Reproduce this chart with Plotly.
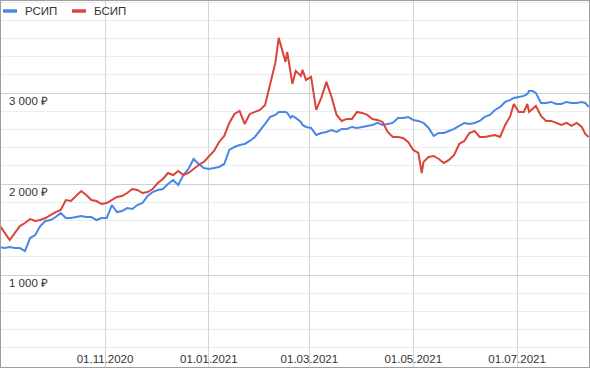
import plotly.graph_objects as go

dates = [
    "2020-08-31", "2020-09-03", "2020-09-06", "2020-09-09", "2020-09-12", "2020-09-15", "2020-09-18",
    "2020-09-21", "2020-09-24", "2020-09-27", "2020-09-30",
    "2020-10-03", "2020-10-06", "2020-10-09", "2020-10-12", "2020-10-15", "2020-10-18", "2020-10-21",
    "2020-10-24", "2020-10-27", "2020-10-30",
    "2020-11-02", "2020-11-05", "2020-11-08", "2020-11-11", "2020-11-14", "2020-11-17", "2020-11-20",
    "2020-11-23", "2020-11-26", "2020-11-29",
    "2020-12-02", "2020-12-05", "2020-12-08", "2020-12-11", "2020-12-14", "2020-12-17", "2020-12-20",
    "2020-12-23", "2020-12-26", "2020-12-29",
    "2021-01-01", "2021-01-04", "2021-01-07", "2021-01-10", "2021-01-13", "2021-01-16", "2021-01-19",
    "2021-01-22", "2021-01-25", "2021-01-28", "2021-01-31",
    "2021-02-03", "2021-02-06", "2021-02-09", "2021-02-11", "2021-02-15", "2021-02-16", "2021-02-18",
    "2021-02-19", "2021-02-21", "2021-02-24", "2021-02-25", "2021-02-27",
    "2021-03-02", "2021-03-05", "2021-03-08", "2021-03-11", "2021-03-14", "2021-03-17", "2021-03-20",
    "2021-03-23", "2021-03-26", "2021-03-29",
    "2021-04-01", "2021-04-04", "2021-04-07", "2021-04-10", "2021-04-13", "2021-04-16", "2021-04-19",
    "2021-04-22", "2021-04-25", "2021-04-28",
    "2021-05-01", "2021-05-04", "2021-05-06", "2021-05-07", "2021-05-10", "2021-05-13", "2021-05-16",
    "2021-05-19", "2021-05-22", "2021-05-25", "2021-05-28", "2021-05-31",
    "2021-06-03", "2021-06-06", "2021-06-09", "2021-06-12", "2021-06-15", "2021-06-18", "2021-06-21",
    "2021-06-24", "2021-06-27", "2021-06-29",
    "2021-07-02", "2021-07-05", "2021-07-07", "2021-07-08", "2021-07-10", "2021-07-12", "2021-07-15",
    "2021-07-18", "2021-07-21", "2021-07-24", "2021-07-27", "2021-07-30",
    "2021-08-02", "2021-08-05", "2021-08-08", "2021-08-10", "2021-08-12",
]

rsip = [
    1307, 1296, 1307, 1296, 1296, 1263, 1406, 1439, 1538, 1593, 1604,
    1637, 1681, 1626, 1626, 1637, 1648, 1637, 1637, 1604, 1626,
    1626, 1769, 1692, 1703, 1736, 1725, 1769, 1791, 1868, 1912,
    1934, 1945, 2000, 2044, 1989, 2099, 2165, 2275, 2220, 2176,
    2165, 2176, 2187, 2220, 2374, 2407, 2429, 2440, 2473, 2517, 2583,
    2660, 2737, 2759, 2792, 2792, 2781, 2726, 2748, 2726, 2682, 2649, 2627,
    2616, 2539, 2561, 2572, 2594, 2572, 2605, 2605, 2627, 2616,
    2627, 2638, 2649, 2671, 2649, 2660, 2671, 2726, 2726, 2737,
    2704, 2693, 2682, 2671, 2616, 2528, 2561, 2561, 2583, 2605, 2638, 2671,
    2660, 2671, 2693, 2737, 2759, 2814, 2847, 2902, 2924, 2946,
    2957, 2968, 2990, 3023, 3023, 3001, 2891, 2891, 2902, 2880, 2880, 2902,
    2891, 2891, 2902, 2891, 2847,
]

bsip = [
    1549, 1461, 1384, 1461, 1538, 1571, 1615, 1593, 1604, 1626, 1659,
    1692, 1714, 1824, 1813, 1868, 1923, 1879, 1824, 1813, 1780,
    1791, 1824, 1857, 1868, 1901, 1945, 1934, 1901, 1912, 1945,
    2011, 2055, 2121, 2099, 2143, 2099, 2121, 2165, 2209, 2242,
    2297, 2363, 2462, 2528, 2671, 2770, 2803, 2660, 2770, 2792, 2814,
    2869, 3100, 3331, 3606, 3342, 3452, 3232, 3100, 3243, 3188, 3254, 3144,
    3177, 2814, 2946, 3122, 2957, 2759, 2693, 2715, 2715, 2792,
    2781, 2759, 2715, 2704, 2682, 2572, 2517, 2517, 2506, 2462,
    2374, 2341, 2121, 2242, 2297, 2308, 2275, 2231, 2264, 2319, 2440, 2473,
    2561, 2583, 2517, 2517, 2528, 2539, 2517, 2649, 2748, 2880,
    2792, 2792, 2880, 2792, 2825, 2858, 2748, 2693, 2693, 2671, 2649, 2671,
    2638, 2671, 2627, 2550, 2517,
]

series_names = ["РСИП", "БСИП"]
series_colors = ["#4a86e8", "#db4437"]

x_tickvals = ["2020-11-01", "2021-01-01", "2021-03-01", "2021-05-01", "2021-07-01"]
x_ticktext = ["01.11.2020", "01.01.2021", "01.03.2021", "01.05.2021", "01.07.2021"]
y_tickvals = [1000, 2000, 3000]
y_ticktext = ["1 000 ₽", "2 000 ₽", "3 000 ₽"]

FONT = "Liberation Sans, Arial, sans-serif"

fig = go.Figure()
for name, vals, col in zip(series_names, [rsip, bsip], series_colors):
    fig.add_trace(go.Scatter(x=dates, y=vals, mode="lines", name=name,
                             line=dict(color=col, width=2)))

fig.update_layout(
    width=590, height=368,
    margin=dict(l=0, r=0, t=0, b=0),
    paper_bgcolor="white", plot_bgcolor="white",
    showlegend=False,
    font=dict(family=FONT, size=11.5, color="#333333"),
    xaxis=dict(
        type="date",
        range=["2020-08-31 08:00", "2021-08-12 19:00"],
        tickmode="array", tickvals=x_tickvals, ticktext=x_ticktext,
        ticklabelposition="inside", ticks="",
        showgrid=True, gridcolor="#d6d6d6", gridwidth=1,
        zeroline=False, showline=False,
        tickfont=dict(family=FONT, size=11.5, color="#333333"),
    ),
    yaxis=dict(
        range=[-22, 4022],
        tickmode="array", tickvals=y_tickvals, ticktext=y_ticktext,
        ticklabelposition="inside bottom", ticks="",
        ticklabelstandoff=6,
        showgrid=True, gridcolor="#cfcfcf", gridwidth=1,
        zeroline=False, showline=False,
        tickfont=dict(family=FONT, size=11.5, color="#333333"),
        minor=dict(tickmode="linear", tick0=0, dtick=200, showgrid=True,
                   gridcolor="#ececec", gridwidth=1),
    ),
)

# frame
fig.add_shape(type="rect", xref="paper", yref="paper", x0=0, x1=1, y0=0, y1=1,
              line=dict(color="#9e9e9e", width=2), layer="above")

# legend (top-left)
legend_x = [3, 72]
for i, (name, col) in enumerate(zip(series_names, series_colors)):
    x0 = legend_x[i] / 590
    x1 = (legend_x[i] + 14) / 590
    yy = 1 - 11 / 368
    fig.add_shape(type="line", xref="paper", yref="paper", x0=x0, x1=x1, y0=yy, y1=yy,
                  line=dict(color=col, width=3.5))
    fig.add_annotation(xref="paper", yref="paper", x=(legend_x[i] + 20) / 590, y=yy,
                       text=name, showarrow=False, xanchor="left", yanchor="middle",
                       font=dict(family=FONT, size=11.5, color="#333333"))

fig.write_html("out.html")
